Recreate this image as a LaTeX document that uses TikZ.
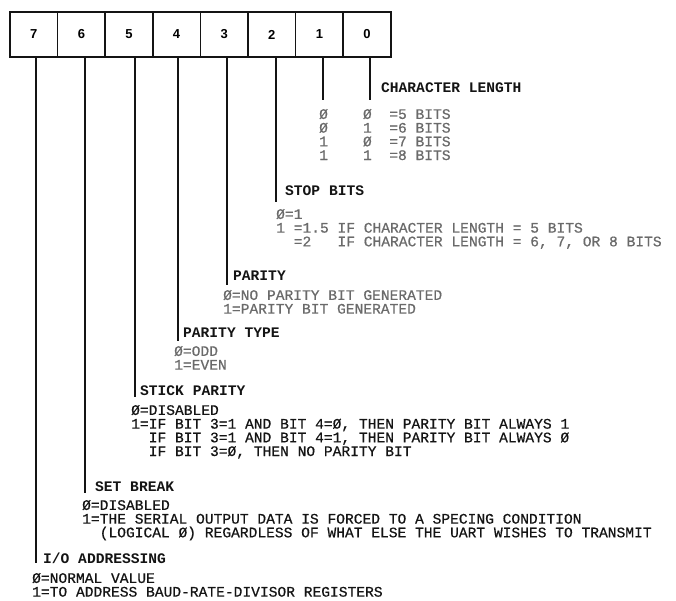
\documentclass[tikz,border=0pt]{standalone}
\usepackage{fontspec}
\setmonofont{Liberation Mono}
\newfontfamily\celdafont{Liberation Sans}
\newfontfamily\valfont{Liberation Mono}[FakeBold=0.6]
\usepackage{tikz}
\usetikzlibrary{positioning}
\definecolor{ctinta}{HTML}{141414}
\definecolor{cgris}{HTML}{6A6A6A}
\tikzset{
  celda/.style={rectangle, draw=ctinta, line width=1.7pt, minimum width=47.6pt,
    minimum height=45pt, inner sep=0pt, outer sep=0pt,
    font=\celdafont\bfseries\fontsize{13}{13}\selectfont},
  barra/.style={draw=ctinta, line width=2.3pt},
  titulo/.style={anchor=west, inner sep=0pt, text height=8.4pt, text depth=0pt,
    font=\ttfamily\bfseries\fontsize{14.6}{13.7}\selectfont, text=ctinta},
  valores/.style={anchor=north west, inner sep=0pt, align=left,
    font=\valfont\fontsize{14.6}{13.7}\selectfont, text=ctinta},
  claro/.style={valores, text=cgris},
}
\begin{document}
\begin{tikzpicture}[x=1pt, y=-1pt]
  \useasboundingbox (0,0) rectangle (676,601);
  % registro de 8 bits
  \node[celda] (b7) at (33.8,34.5) {7};
  \foreach \b/\a in {6/7,5/6,4/5,3/4,2/3,1/2,0/1}
    \node[celda, right=0pt of b\a] (b\b) {\b};
  % extremos de las barras
  \coordinate (e0) at (370,100);
  \coordinate (e1) at (323,100);
  \coordinate (e2) at (276,202);
  \coordinate (e3) at (227,285);
  \coordinate (e4) at (178,341);
  \coordinate (e5) at (135,397);
  \coordinate (e6) at (85,493);
  \coordinate (e7) at (36,563);
  \foreach \b in {0,...,7}
    \draw[barra] (b\b.south -| e\b) -- (e\b);
  % titulos
  \node[titulo] (cl) at ([xshift=11pt, yshift=12pt]e0) {CHARACTER LENGTH};
  \node[titulo] (sb) at ([xshift=9pt, yshift=11pt]e2) {STOP BITS};
  \node[titulo] (pa) at ([xshift=6pt, yshift=9pt]e3) {PARITY};
  \node[titulo] (pt) at ([xshift=5pt, yshift=8pt]e4) {PARITY TYPE};
  \node[titulo] (sp) at ([xshift=5pt, yshift=6pt]e5) {STICK PARITY};
  \node[titulo] (sbk) at ([xshift=10pt, yshift=6pt]e6) {SET BREAK};
  \node[titulo] (io) at ([xshift=7pt, yshift=4pt]e7) {I/O ADDRESSING};
  % valores
  \node[claro] (cl-v) at (319,108.8)
    {Ø~~~~Ø~~=5~BITS\\Ø~~~~1~~=6~BITS\\1~~~~Ø~~=7~BITS\\1~~~~1~~=8~BITS};
  \node[claro] (sb-v) at (276,208.8)
    {Ø=1\\1~=1.5~IF CHARACTER LENGTH = 5 BITS\\~~=2~~~IF CHARACTER LENGTH = 6, 7, OR 8 BITS};
  \node[claro] (pa-v) at (223,289.8) {Ø=NO PARITY BIT GENERATED\\1=PARITY BIT GENERATED};
  \node[claro] (pt-v) at (174,345.8) {Ø=ODD\\1=EVEN};
  \node[valores] (sp-v) at (131,404.8)
    {Ø=DISABLED\\1=IF BIT 3=1 AND BIT 4=Ø, THEN PARITY BIT ALWAYS 1\\~~IF BIT 3=1 AND BIT 4=1, THEN PARITY BIT ALWAYS Ø\\~~IF BIT 3=Ø, THEN NO PARITY BIT};
  \node[valores] (sbk-v) at (82,499.8)
    {Ø=DISABLED\\1=THE SERIAL OUTPUT DATA IS FORCED TO A SPECING CONDITION\\~~(LOGICAL Ø) REGARDLESS OF WHAT ELSE THE UART WISHES TO TRANSMIT};
  \node[valores] (io-v) at (32,572.8) {Ø=NORMAL VALUE\\1=TO ADDRESS BAUD-RATE-DIVISOR REGISTERS};
\end{tikzpicture}
\end{document}
